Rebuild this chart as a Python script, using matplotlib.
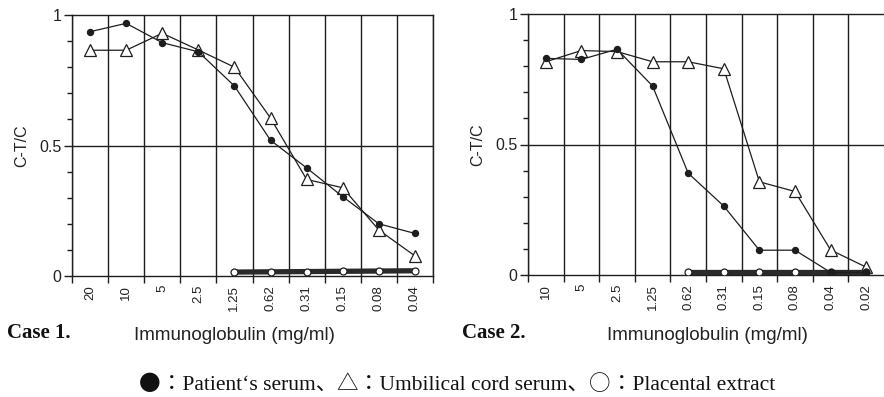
import matplotlib
matplotlib.use("Agg")
import matplotlib.pyplot as plt
from matplotlib.ticker import MultipleLocator, FixedLocator, NullFormatter

# Dilution series (mg/ml) and C-T/C values for each case
case1_doses = ["20", "10", "5", "2.5", "1.25", "0.62", "0.31", "0.15", "0.08", "0.04"]
case1_patient = [0.936, 0.968, 0.894, 0.859, 0.728, 0.52, 0.414, 0.304, 0.20, 0.163]
case1_cord = [0.865, 0.865, 0.93, 0.866, 0.80, 0.605, 0.37, 0.338, 0.176, 0.077]
case1_placenta_doses = ["1.25", "0.62", "0.31", "0.15", "0.08", "0.04"]
case1_placenta = [0.015, 0.016, 0.017, 0.018, 0.019, 0.02]

case2_doses = ["10", "5", "2.5", "1.25", "0.62", "0.31", "0.15", "0.08", "0.04", "0.02"]
case2_patient = [0.83, 0.826, 0.865, 0.724, 0.39, 0.264, 0.095, 0.095, 0.01, 0.01]
case2_cord = [0.817, 0.86, 0.856, 0.817, 0.817, 0.79, 0.357, 0.32, 0.096, 0.03]
case2_placenta_doses = ["0.62", "0.31", "0.15", "0.08", "0.04", "0.02"]
case2_placenta = [0.012, 0.012, 0.012, 0.012, 0.012, 0.012]

key_symbols = ["●", "△", "○"]
key_names = ["Patient‘s serum", "Umbilical cord serum", "Placental extract"]

INK = "#1e1e1e"
SANS = ["Liberation Sans", "DejaVu Sans"]
SERIF = ["Liberation Serif", "Noto Sans CJK JP", "DejaVu Sans"]
CJK = ["Noto Sans CJK JP", "DejaVu Sans"]

W, H = 884, 397
fig = plt.figure(figsize=(W / 100, H / 100), dpi=100)
fig.patch.set_facecolor("white")


def px_axes(x0, y_top, x1, y_bot):
    return fig.add_axes([x0 / W, (H - y_bot) / H, (x1 - x0) / W, (y_bot - y_top) / H])


def draw_case(ax, doses, patient, cord, pl_doses, placenta, right_spine=True, xticks_n=11):
    pos = {d: i + 0.5 for i, d in enumerate(doses)}
    x = [pos[d] for d in doses]
    xp = [pos[d] for d in pl_doses]

    ax.set_xlim(0, len(doses))
    ax.set_ylim(0, 1)

    # umbilical cord serum (open triangles)
    ax.plot(x, cord, color=INK, lw=0.9, marker="^", ms=8.5, mfc="white",
            mec=INK, mew=0.9, zorder=4)
    # placental extract (open circles on heavy line)
    ax.plot(xp, placenta, color="#2a2a2a", lw=3.8, solid_capstyle="round", zorder=5)
    ax.plot(xp, placenta, ls="none", marker="o", ms=5, mfc="white",
            mec=INK, mew=0.9, zorder=6)
    # patient's serum (filled dots)
    ax.plot(x, patient, color=INK, lw=0.9, marker="o", ms=4.3, mfc=INK,
            mec=INK, zorder=7)

    # frame and grid
    for side in ("left", "top", "bottom", "right"):
        ax.spines[side].set_color(INK)
        ax.spines[side].set_linewidth(1.0)
    ax.spines["right"].set_visible(right_spine)

    ax.xaxis.set_major_locator(FixedLocator(list(range(xticks_n))))
    ax.xaxis.set_major_formatter(NullFormatter())
    ax.xaxis.set_minor_locator(FixedLocator(x))
    ax.set_xticklabels(doses, minor=True, rotation=90, fontsize=9.5, family=SANS)
    ax.tick_params(axis="x", which="major", direction="out", length=5, width=1.0, color=INK)
    ax.tick_params(axis="x", which="minor", length=0, pad=6.5, labelcolor="#222222")
    ax.grid(axis="x", which="major", color=INK, lw=1.0)

    ax.set_yticks([0, 0.5, 1])
    ax.set_yticklabels(["0", "0.5", "1"], fontsize=11.5, family=SANS)
    ax.yaxis.set_minor_locator(MultipleLocator(0.1))
    ax.tick_params(axis="y", which="major", direction="out", length=5.8, width=1.0,
                   color=INK, pad=2, labelcolor="#222222")
    ax.tick_params(axis="y", which="minor", direction="out", length=3.6, width=1.0, color=INK)
    ax.axhline(0.5, color=INK, lw=1.0)
    ax.set_facecolor("white")


ax1 = px_axes(72, 15, 433, 276)
draw_case(ax1, case1_doses, case1_patient, case1_cord,
          case1_placenta_doses, case1_placenta, right_spine=True, xticks_n=11)

ax2 = px_axes(528, 14, 884, 275)
draw_case(ax2, case2_doses, case2_patient, case2_cord,
          case2_placenta_doses, case2_placenta, right_spine=False, xticks_n=10)


def fig_text(xp, yp, s, **kw):
    return fig.text(xp / W, 1 - yp / H, s, **kw)


# axis titles
for xc, yc in ((22, 146), (478, 145)):
    fig_text(xc, yc, "C-T/C", rotation=90, ha="center", va="center", fontsize=11.5,
             family=SANS, color="#222222")
for xc in (234, 707):
    fig_text(xc, 336, "Immunoglobulin (mg/ml)", ha="center", va="center", fontsize=13.5,
             family=SANS, color="#222222")

# case captions
fig_text(7, 338, "Case 1.", ha="left", va="baseline", fontsize=15, weight="bold",
         family=["Liberation Serif", "DejaVu Serif"], color="#111111")
fig_text(462, 338, "Case 2.", ha="left", va="baseline", fontsize=15, weight="bold",
         family=["Liberation Serif", "DejaVu Serif"], color="#111111")

# key: symbols in a CJK face, descriptions in serif, laid out in sequence
pieces = []
for i, (sym, name) in enumerate(zip(key_symbols, key_names)):
    pieces.append((sym, CJK))
    tail = "、" if i < len(key_names) - 1 else ""
    pieces.append(("：" + name + tail, SERIF))

renderer = fig.canvas.get_renderer()
texts = []
for s, fam in pieces:
    t = fig.text(0, 1 - 390 / H, s, ha="left", va="baseline", fontsize=15.5,
                 family=fam, color="#111111")
    texts.append(t)
widths = [t.get_window_extent(renderer).width for t in texts]
total = sum(widths)
x = (457 - total / 2)
for t, w in zip(texts, widths):
    t.set_x(x / W)
    x += w

fig.savefig("out.png", dpi=100, facecolor="white")
